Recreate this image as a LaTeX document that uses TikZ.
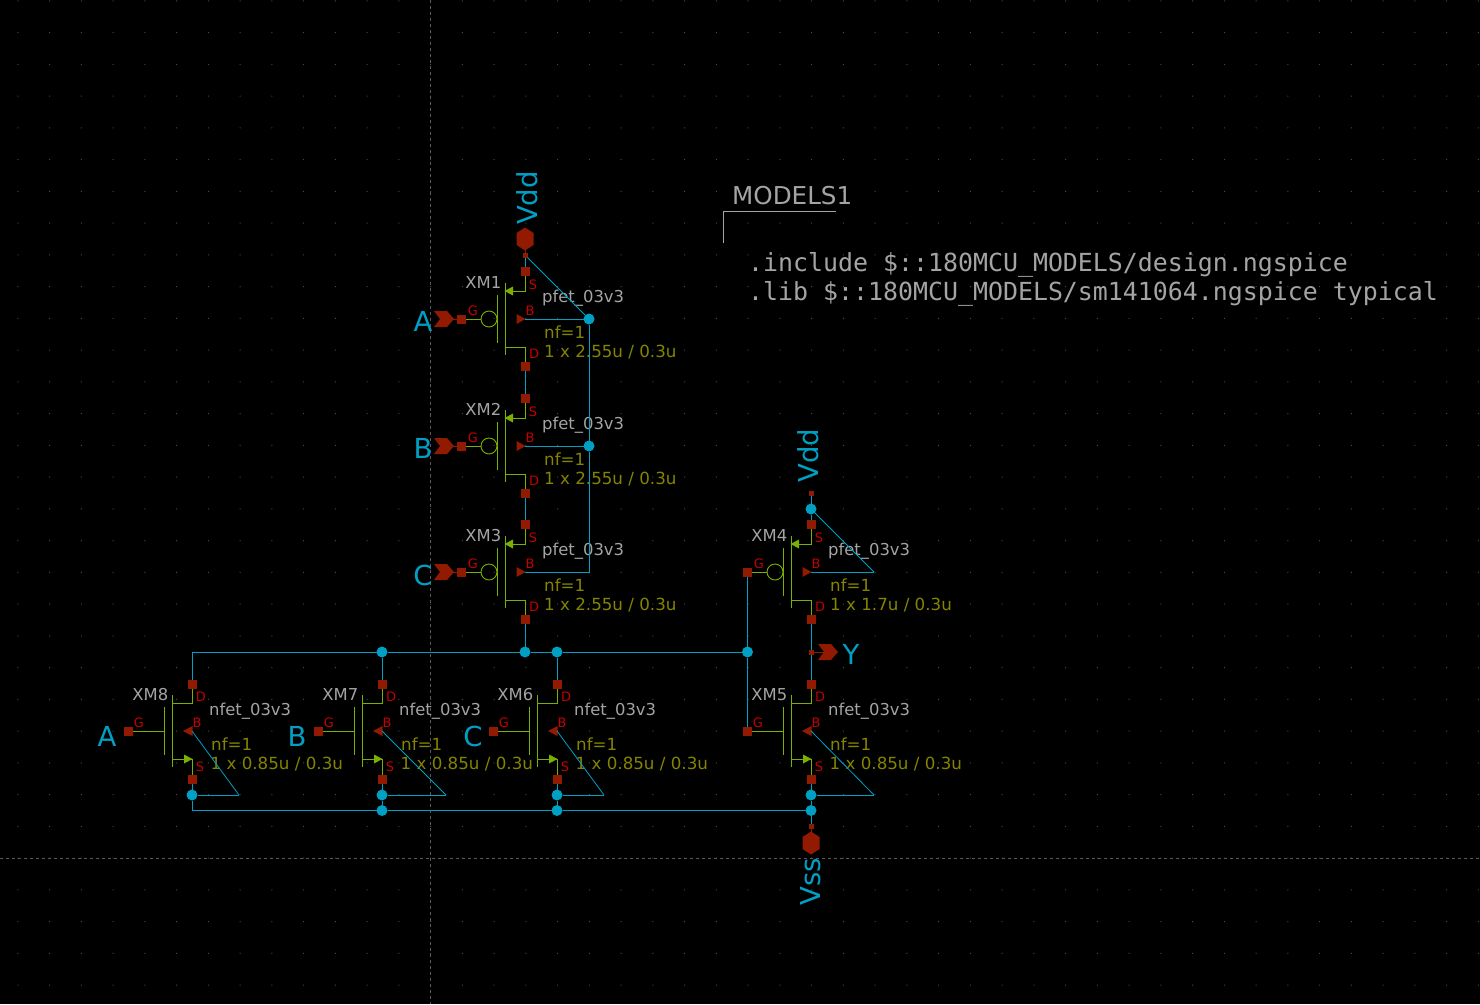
\documentclass[tikz,border=0pt]{standalone}
\usepackage{fontspec}
\setmainfont{DejaVu Sans}
\newfontfamily\monof{DejaVu Sans Mono}
\definecolor{wirec}{HTML}{00A0C4}
\definecolor{pinc}{HTML}{921A00}
\definecolor{symc}{HTML}{7AB000}
\definecolor{pintxt}{HTML}{C40000}
\definecolor{olivec}{HTML}{848400}
\definecolor{greyc}{HTML}{A4A4A4}
\definecolor{axisc}{HTML}{5A5A5A}
\definecolor{gridc}{HTML}{4A4A4A}
\newcommand{\fsz}[1]{\fontsize{#1}{#1}\selectfont}
\tikzset{
  x=1pt,y=-1pt,
  pinbox/.style={draw=none,fill=pinc,minimum size=9pt,inner sep=0pt,outer sep=0pt,shape=rectangle},
  tinypin/.style={draw=none,fill=pinc,minimum size=5pt,inner sep=0pt,outer sep=0pt,shape=rectangle},
  junct/.style={circle,fill=wirec,draw=none,minimum size=11pt,inner sep=0pt,outer sep=0pt},
  wire/.style={draw=wirec,line width=1pt},
  thinwire/.style={draw=wirec,line width=0.8pt},
  sym/.style={draw=symc,line width=0.9pt},
  pinline/.style={draw=pinc,line width=1pt},
  pintext/.style={text=pintxt,inner sep=0pt,font=\fsz{13}},
  inst/.style={text=greyc,inner sep=0pt,font=\fsz{16.4}},
  param/.style={text=olivec,inner sep=0pt,font=\fsz{16.7}},
  netlab/.style={text=wirec,inner sep=0pt,font=\fsz{27.5}},
  code/.style={text=greyc,inner sep=0pt,anchor=west,font=\monof\fsz{24.9}},
}
\newcommand{\pfetsym}[5]{%
\begin{scope}[shift={(#2,#3)}]
  \node[pinbox] (#1s) at (0,-48) {};
  \node[pinbox] (#1d) at (0,47) {};
  \node[pinbox] (#1g) at (-63.5,0) {};
  \coordinate (#1b) at (0,0);
  \draw[sym] (-28,-24) -- (-28,24);
  \draw[sym] (-20,-36) -- (-20,36);
  \draw[sym] (#1s) -- (0,-28) -- (-20,-28);
  \draw[sym] (-20,28) -- (0,28) -- (#1d);
  \node[circle,draw=symc,line width=0.9pt,minimum size=16pt,inner sep=0pt] (#1bub) at (-36,0) {};
  \draw[sym] (#1g) -- (#1bub);
  \fill[symc] (-20.5,-28) -- (-12,-32.5) -- (-12,-23.5) -- cycle;
  \fill[pinc] (0.5,0) -- (-8.5,-5) -- (-8.5,5) -- cycle;
  \node[pintext] (#1Gt) at (-52,-8) {G};
  \node[pintext] (#1St) at (8,-34) {S};
  \node[pintext] (#1Bt) at (5,-8) {B};
  \node[pintext] (#1Dt) at (9,35) {D};
  \node[inst,anchor=east] (#1lab) at (-23.5,-36.5) {#4};
  \node[inst,anchor=west] (#1mod) at (17,-20.5) {pfet\_03v3};
  \node[param,anchor=west] (#1nf) at (19,13.5) {nf=1};
  \node[param,anchor=west] (#1sz) at (19,33.5) {#5};
\end{scope}}
\newcommand{\nfetsym}[5]{%
\begin{scope}[shift={(#2,#3)}]
  \node[pinbox] (#1d) at (0,-47) {};
  \node[pinbox] (#1s) at (0,48) {};
  \node[pinbox] (#1g) at (-63.5,0) {};
  \coordinate (#1b) at (0,0);
  \draw[sym] (-28,-24) -- (-28,24);
  \draw[sym] (-20,-36) -- (-20,36);
  \draw[sym] (#1d) -- (0,-28) -- (-20,-28);
  \draw[sym] (-20,28) -- (0,28) -- (#1s);
  \draw[sym] (#1g) -- (-28,0);
  \fill[symc] (0.5,28) -- (-8,23.5) -- (-8,32.5) -- cycle;
  \fill[pinc] (-9,0) -- (0.5,-5) -- (0.5,5) -- cycle;
  \node[pintext] (#1Gt) at (-53,-8) {G};
  \node[pintext] (#1St) at (8,36) {S};
  \node[pintext] (#1Bt) at (5,-8) {B};
  \node[pintext] (#1Dt) at (9,-34) {D};
  \node[inst,anchor=east] (#1lab) at (-23.5,-36.5) {#4};
  \node[inst,anchor=west] (#1mod) at (17,-19.5) {nfet\_03v3};
  \node[param,anchor=west] (#1nf) at (19,13) {nf=1};
  \node[param,anchor=west] (#1sz) at (18.5,33.5) {#5};
\end{scope}}
\newcommand{\arrowport}[3]{%
  \path[fill=pinc] (#2-10,#3-8) -- (#2+3,#3-8) -- (#2+10,#3) -- (#2+3,#3+8) -- (#2-10,#3+8) -- (#2-4,#3) -- cycle;
  \coordinate (#1) at (#2,#3);}
\newcommand{\hexport}[3]{%
  \path[fill=pinc] (#2,#3-11.5) -- (#2+8.5,#3-6) -- (#2+8.5,#3+6) -- (#2,#3+11.5) -- (#2-8.5,#3+6) -- (#2-8.5,#3-6) -- cycle;
  \coordinate (#1) at (#2,#3);}
\begin{document}
\begin{tikzpicture}
\useasboundingbox (0,0) rectangle (1480,1004);
\fill[black] (0,0) rectangle (1480,1004);
\fill[gridc] foreach \i in {-13,...,33} { foreach \j in {-4,...,27} {
   ({430.5+31.75*\i-0.5},{858-31.75*\j-0.5}) rectangle ++(1,1) } };
\draw[axisc,line width=0.8pt,dash pattern=on 3pt off 3pt] (430.5,0) -- (430.5,1004);
\draw[axisc,line width=0.8pt,dash pattern=on 3pt off 3pt] (0,858) -- (1480,858);

\pfetsym{XMa}{525}{319}{XM1}{1 x 2.55u / 0.3u}
\pfetsym{XMb}{525}{446}{XM2}{1 x 2.55u / 0.3u}
\pfetsym{XMc}{525}{572}{XM3}{1 x 2.55u / 0.3u}
\pfetsym{XMd}{811}{572}{XM4}{1 x 1.7u / 0.3u}
\nfetsym{XMe}{811}{731}{XM5}{1 x 0.85u / 0.3u}
\nfetsym{XMf}{557}{731}{XM6}{1 x 0.85u / 0.3u}
\nfetsym{XMg}{382}{731}{XM7}{1 x 0.85u / 0.3u}
\nfetsym{XMh}{192}{731}{XM8}{1 x 0.85u / 0.3u}

\hexport{vddP}{525}{239}
\node[tinypin] (vddpin) at (525,255) {};
\draw[pinline] (vddP) -- (vddpin);
\node[tinypin] (vddpinb) at (811,493) {};
\hexport{vssP}{811}{843}
\node[tinypin] (vsspin) at (811,826) {};
\draw[pinline] (vssP) -- (vsspin);
\arrowport{inA}{444}{319}
\arrowport{inB}{444}{446}
\arrowport{inC}{444}{572}
\draw[pinline] (inA) -- (XMag);
\draw[pinline] (inB) -- (XMbg);
\draw[pinline] (inC) -- (XMcg);
\arrowport{outY}{828}{652}
\node[tinypin] (ypin) at (811,652) {};
\draw[pinline] (ypin) -- (outY);

\node[junct] (j1) at (589,319) {};
\node[junct] (j2) at (589,446) {};
\coordinate (c3) at (589,572);
\coordinate (c4) at (874,572);
\node[junct] (jv) at (811,509) {};
\coordinate (ntl) at (192,652);
\node[junct] (n7) at (382,652) {};
\node[junct] (n3) at (525,652) {};
\node[junct] (n6) at (557,652) {};
\node[junct] (n4) at (747.5,652) {};
\node[junct] (s8) at (192,795) {};
\node[junct] (s7) at (382,795) {};
\node[junct] (s6) at (557,795) {};
\node[junct] (s5) at (811,795) {};
\coordinate (bl) at (192,810.5);
\node[junct] (b7) at (382,810.5) {};
\node[junct] (b6) at (557,810.5) {};
\node[junct] (b5) at (811,810.5) {};
\coordinate (t8) at (239,795);
\coordinate (t7) at (446,795);
\coordinate (t6) at (604,795);
\coordinate (t5) at (874,795);

\draw[wire] (vddpin) -- (XMas);
\draw[wire] (XMad) -- (XMbs);
\draw[wire] (XMbd) -- (XMcs);
\draw[wire] (XMcd) -- (n3);
\draw[thinwire] (vddpin) -- (j1);
\draw[wire] (XMab) -- (j1);
\draw[wire] (XMbb) -- (j2);
\draw[wire] (j1) -- (j2) -- (c3) -- (XMcb);
\draw[wire] (vddpinb) -- (jv) -- (XMds);
\draw[thinwire] (jv) -- (c4);
\draw[wire] (XMdb) -- (c4);
\draw[wire] (XMdd) -- (ypin) -- (XMed);
\draw[wire] (XMdg) -- (n4) -- (XMeg);
\draw[wire] (XMhd) -- (ntl) -- (n7) -- (n3) -- (n6) -- (n4);
\draw[wire] (n7) -- (XMgd);
\draw[wire] (n6) -- (XMfd);
\draw[wire] (XMhs) -- (s8) -- (bl) -- (b7) -- (b6) -- (b5);
\draw[wire] (XMgs) -- (s7) -- (b7);
\draw[wire] (XMfs) -- (s6) -- (b6);
\draw[wire] (XMes) -- (s5) -- (b5) -- (vsspin);
\draw[thinwire] (XMhb) -- (t8);
\draw[wire] (t8) -- (s8);
\draw[thinwire] (XMgb) -- (t7);
\draw[wire] (t7) -- (s7);
\draw[thinwire] (XMfb) -- (t6);
\draw[wire] (t6) -- (s6);
\draw[thinwire] (XMeb) -- (t5);
\draw[wire] (t5) -- (s5);

\node[netlab,rotate=90] (lv1) at (527.5,198) {Vdd};
\node[netlab,rotate=90] (lv2) at (808.5,455.5) {Vdd};
\node[netlab,rotate=90] (lvs) at (810.5,881.5) {Vss};
\node[netlab] (lA1) at (423,321.5) {A};
\node[netlab] (lB1) at (423,448.5) {B};
\node[netlab] (lC1) at (423,575) {C};
\node[netlab] (lY) at (851,654) {Y};
\node[netlab] (lA2) at (107,736) {A};
\node[netlab] (lB2) at (297,736) {B};
\node[netlab] (lC2) at (473,736) {C};

\coordinate (mA) at (723,243);
\coordinate (mB) at (723,211);
\coordinate (mC) at (836,211);
\draw[draw=greyc,line width=0.9pt] (mA) -- (mB) -- (mC);
\node[text=greyc,inner sep=0pt,anchor=west,font=\fsz{24.6}] (mlab) at (732,195.5) {MODELS1};
\node[code] (l1) at (748,264.5) {.include \$::180MCU\_MODELS/design.ngspice};
\node[code] (l2) at (748,293.5) {.lib \$::180MCU\_MODELS/sm141064.ngspice typical};
\end{tikzpicture}
\end{document}
